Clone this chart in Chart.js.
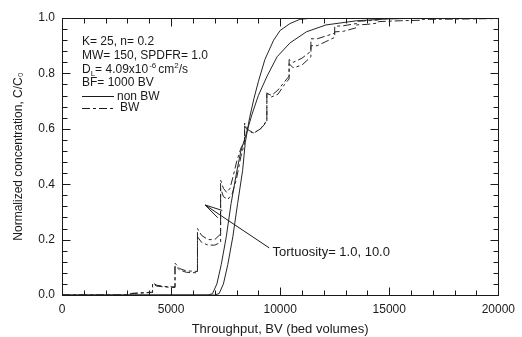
<!DOCTYPE html>
<html>
<head>
<meta charset="utf-8">
<script src="https://cdn.jsdelivr.net/npm/chart.js@4"></script>
<style>
  html, body { margin: 0; padding: 0; background: #fff; }
</style>
</head>
<body>
<canvas id="chart" width="522" height="337"></canvas>
<script>
  // breakthrough curves (BV, C/C0)
  const nonBw1X = [0, 7000, 7200, 7400, 7600, 7830, 8050, 8280, 8400, 8600, 8800, 9000, 9300, 9700, 10000, 10450, 10900, 11500, 20000];
  const nonBw1Y = [0, 0, 0.005, 0.04, 0.11, 0.21, 0.33, 0.45, 0.55, 0.64, 0.71, 0.77, 0.85, 0.92, 0.955, 0.98, 0.995, 1.0, 1.0];

  const nonBw10X = [0, 6700, 6900, 7100, 7300, 7530, 7750, 8020, 8200, 8400, 8700, 9000, 9400, 9860, 10450, 11200, 12100, 13500, 15000, 17000, 20000];
  const nonBw10Y = [0, 0, 0.005, 0.04, 0.11, 0.21, 0.33, 0.45, 0.52, 0.57, 0.65, 0.72, 0.79, 0.86, 0.91, 0.95, 0.975, 0.99, 0.997, 1.0, 1.0];

  const bw1X = [0, 3000, 3200, 4100, 4150, 4150, 4350, 4700, 5180, 5180,
    5400, 5700, 6210, 6210, 6400, 6700, 7000, 7270, 7270, 7400,
    7600, 7800, 8000, 8200, 8370, 8370, 8550, 8800, 9100, 9390,
    9390, 9600, 9900, 10200, 10410, 10410, 10600, 11000, 11410, 11410,
    11700, 12100, 12500, 12500, 12900, 13500, 13500, 14000, 14500, 14500,
    15500, 16500, 20000];
  const bw1Y = [0, 0, 0.005, 0.009, 0.009, 0.04, 0.032, 0.029, 0.027, 0.105,
    0.09, 0.082, 0.08, 0.21, 0.19, 0.18, 0.18, 0.19, 0.385, 0.355,
    0.345, 0.365, 0.42, 0.5, 0.55, 0.61, 0.59, 0.585, 0.6, 0.63,
    0.73, 0.72, 0.74, 0.77, 0.79, 0.85, 0.84, 0.855, 0.88, 0.925,
    0.925, 0.935, 0.945, 0.97, 0.972, 0.98, 0.988, 0.99, 0.993, 0.997,
    0.998, 1.0, 1.0];

  const bw10X = [0, 3000, 3200, 4100, 4150, 4150, 4350, 4700, 5180, 5180,
    5400, 5700, 6210, 6210, 6400, 6700, 7000, 7270, 7270, 7400,
    7550, 7700, 7850, 8000, 8200, 8370, 8370, 8550, 8800, 9100,
    9390, 9390, 9600, 9900, 10200, 10410, 10410, 10600, 11000, 11410,
    11410, 11700, 12100, 12500, 12500, 12900, 13500, 13500, 14000, 14500,
    14500, 15500, 16500, 16500, 18000, 20000];
  const bw10Y = [0, 0, 0.006, 0.01, 0.01, 0.044, 0.035, 0.031, 0.029, 0.115,
    0.095, 0.087, 0.085, 0.24, 0.215, 0.2, 0.2, 0.22, 0.415, 0.385,
    0.37, 0.385, 0.43, 0.48, 0.53, 0.555, 0.62, 0.595, 0.585, 0.6,
    0.625, 0.73, 0.715, 0.725, 0.76, 0.78, 0.835, 0.82, 0.83, 0.86,
    0.9, 0.9, 0.915, 0.93, 0.95, 0.952, 0.965, 0.975, 0.977, 0.982,
    0.987, 0.99, 0.992, 0.995, 0.996, 0.998];

  const xTickValues = [0, 5000, 10000, 15000, 20000];
  const yTickValues = [0, 0.2, 0.4, 0.6, 0.8, 1.0];

  const FONT = '"Liberation Sans", Arial, sans-serif';
  const INK = '#1a1a1a';

  function toPts(xs, ys) {
    return xs.map((x, i) => ({ x: x, y: ys[i] }));
  }

  // frame, inward ticks, legend block and the tortuosity arrow
  const decorations = {
    id: 'decorations',
    afterDraw(chart) {
      const { ctx, chartArea: a, scales: { x, y } } = chart;
      const L = Math.round(a.left) + 0.5, R = Math.round(a.right) + 0.5;
      const T = Math.round(a.top) + 0.5, B = Math.round(a.bottom) + 0.5;
      ctx.save();
      ctx.strokeStyle = INK;
      ctx.lineWidth = 1;
      ctx.strokeRect(L, T, R - L, B - T);

      ctx.beginPath();
      for (let v = 0; v <= 20000; v += 1000) {
        const px = Math.round(x.getPixelForValue(v)) + 0.5;
        const len = v % 5000 === 0 ? 8 : 5;
        ctx.moveTo(px, B); ctx.lineTo(px, B - len);
        ctx.moveTo(px, T); ctx.lineTo(px, T + len);
      }
      for (let i = 0; i <= 25; i++) {
        const py = Math.round(y.getPixelForValue(i * 0.04)) + 0.5;
        const len = i % 5 === 0 ? 8 : 5;
        ctx.moveTo(L, py); ctx.lineTo(L + len, py);
        ctx.moveTo(R, py); ctx.lineTo(R - len, py);
      }
      ctx.stroke();

      // parameter block
      ctx.fillStyle = INK;
      ctx.textBaseline = 'alphabetic';
      ctx.textAlign = 'left';
      ctx.font = '12px ' + FONT;
      const tx = a.left + 20;
      ctx.fillText('K= 25, n= 0.2', tx, a.top + 27);
      ctx.fillText('MW= 150, SPDFR= 1.0', tx, a.top + 41);
      let cx = tx, by = a.top + 55;
      ctx.fillText('D', cx, by); cx += ctx.measureText('D').width;
      ctx.font = '8px ' + FONT;
      ctx.fillText('L', cx, by + 3); cx += ctx.measureText('L').width;
      ctx.font = '12px ' + FONT;
      ctx.fillText('= 4.09x10', cx, by); cx += ctx.measureText('= 4.09x10').width;
      ctx.font = '8px ' + FONT;
      ctx.fillText('-6', cx + 1, by - 5); cx += ctx.measureText('-6').width + 3;
      ctx.font = '12px ' + FONT;
      ctx.fillText('cm', cx, by); cx += ctx.measureText('cm').width;
      ctx.font = '8px ' + FONT;
      ctx.fillText('2', cx, by - 5); cx += ctx.measureText('2').width;
      ctx.font = '12px ' + FONT;
      ctx.fillText('/s', cx, by);
      ctx.fillText('BF= 1000 BV', tx, a.top + 68);

      ctx.lineWidth = 1;
      ctx.beginPath();
      ctx.moveTo(tx, a.top + 78.5); ctx.lineTo(tx + 32, a.top + 78.5);
      ctx.stroke();
      ctx.setLineDash([8, 3, 3, 3]);
      ctx.beginPath();
      ctx.moveTo(tx, a.top + 90.5); ctx.lineTo(tx + 32, a.top + 90.5);
      ctx.stroke();
      ctx.setLineDash([]);
      ctx.textBaseline = 'middle';
      ctx.fillText('non BW', tx + 35, a.top + 79);
      ctx.fillText('BW', tx + 38, a.top + 90);

      // arrow to the curves
      const tipX = x.getPixelForValue(6560), tipY = y.getPixelForValue(0.325);
      const tailX = x.getPixelForValue(9500), tailY = y.getPixelForValue(0.17);
      const ang = Math.atan2(tailY - tipY, tailX - tipX);
      ctx.beginPath();
      ctx.moveTo(tailX, tailY); ctx.lineTo(tipX, tipY);
      ctx.moveTo(tipX + 18 * Math.cos(ang - 0.28), tipY + 18 * Math.sin(ang - 0.28));
      ctx.lineTo(tipX, tipY);
      ctx.lineTo(tipX + 18 * Math.cos(ang + 0.2), tipY + 18 * Math.sin(ang + 0.2));
      ctx.stroke();
      ctx.font = '13px ' + FONT;
      ctx.fillText('Tortuosity= 1.0, 10.0', x.getPixelForValue(9650), y.getPixelForValue(0.152));
      ctx.restore();
    }
  };

  const solid = { borderColor: '#262626', borderWidth: 1, pointRadius: 0, tension: 0, fill: false };
  const dashed = Object.assign({}, solid, { borderDash: [8, 3, 3, 3] });

  new Chart(document.getElementById('chart'), {
    type: 'line',
    data: {
      datasets: [
        Object.assign({ label: 'non BW, tortuosity 1.0', data: toPts(nonBw1X, nonBw1Y) }, solid),
        Object.assign({ label: 'non BW, tortuosity 10.0', data: toPts(nonBw10X, nonBw10Y) }, solid),
        Object.assign({ label: 'BW, tortuosity 1.0', data: toPts(bw1X, bw1Y) }, dashed),
        Object.assign({ label: 'BW, tortuosity 10.0', data: toPts(bw10X, bw10Y) }, dashed)
      ]
    },
    options: {
      responsive: false,
      animation: false,
      devicePixelRatio: 1,
      layout: { padding: { top: 18, right: 17, left: 0, bottom: 0 } },
      plugins: { legend: { display: false }, tooltip: { enabled: false } },
      scales: {
        x: {
          type: 'linear',
          min: 0, max: 20000,
          afterBuildTicks: s => { s.ticks = xTickValues.map(v => ({ value: v })); },
          afterFit: s => { s.height = 42; },
          grid: { display: false, drawTicks: false },
          border: { display: false },
          ticks: { color: INK, font: { family: FONT, size: 12 }, padding: 7, maxRotation: 0, callback: v => String(v) },
          title: { display: true, text: 'Throughput, BV (bed volumes)', color: INK, font: { family: FONT, size: 13 }, padding: { top: 0, bottom: 0 } }
        },
        y: {
          type: 'linear',
          min: 0, max: 1,
          afterBuildTicks: s => { s.ticks = yTickValues.map(v => ({ value: v })); },
          afterFit: s => { s.width = 62; },
          grid: { display: false, drawTicks: false },
          border: { display: false },
          ticks: { color: INK, font: { family: FONT, size: 12 }, padding: 7, callback: v => v.toFixed(1) },
          title: { display: true, text: 'Normalized concentration, C/C\u2080', color: INK, font: { family: FONT, size: 12 }, padding: { top: 11, bottom: 0 } }
        }
      }
    },
    plugins: [decorations]
  });
</script>
</body>
</html>
